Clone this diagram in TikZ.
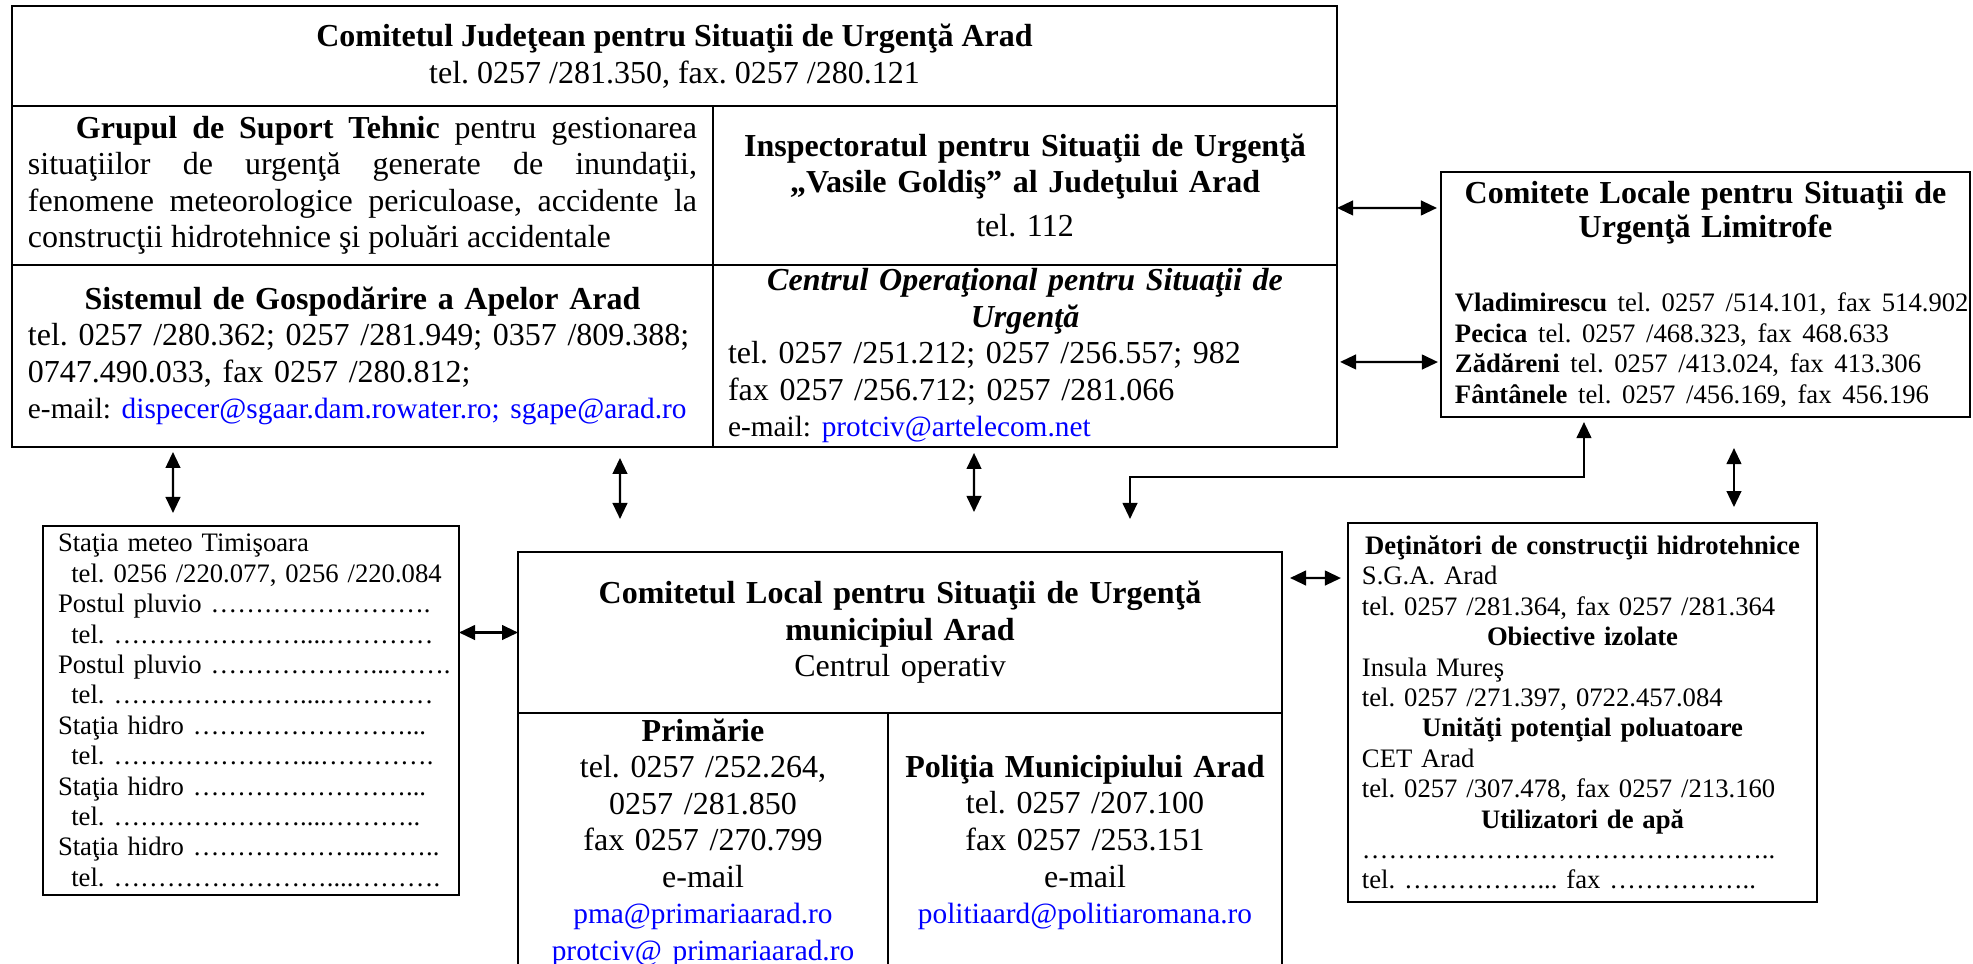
\documentclass[tikz,border=0pt]{standalone}
\usepackage{fontspec}
\setmainfont{Liberation Serif}
\usepackage{tikz}
\usetikzlibrary{positioning,calc,arrows.meta}
\tikzstyle{cell}=[draw,%
                  rectangle,%
                  line width = 1pt,%
                  inner sep  = 0pt,%
                  outer sep  = 0pt,%
                  font=\fontsize{12}{13.7}\selectfont]
\tikzstyle{smallcell}=[cell, font=\fontsize{10}{11.4}\selectfont]
\tikzstyle{link}=[<->, line width=0.8pt]
\newcommand{\adresa}[1]{{\fontsize{11}{13.7}\selectfont\textcolor{blue}{#1}}}
\newcommand{\stg}[1]{\makebox[\linewidth][l]{#1}}
\newcommand{\puncte}[1]{\foreach \k in {1,...,#1}{…}}
\hyphenpenalty=10000
\frenchspacing

\begin{document}
\begin{tikzpicture}[x=0.375pt, y=-0.375pt, >={Triangle[length=6pt,width=5.5pt]}]
  \useasboundingbox (0,0) rectangle (1973,963);
  \clip (0,0) rectangle (1973,963);
            % comitetul judetean
            \node[cell, minimum width=496.9pt, minimum height=37.5pt, align=center] (judet) at (674.5,56)
              {\textbf{Comitetul Judeţean pentru Situaţii de Urgenţă Arad}\\ tel. 0257 /281.350, fax. 0257 /280.121};
            \node[cell, minimum width=262.9pt, minimum height=59.6pt, text width=250.9pt, align=justify,
                  below right=0pt and 0pt of judet.south west] (grupul)
              {\hspace*{18pt}\textbf{Grupul de Suport Tehnic} pentru gestionarea\linebreak
               situaţiilor de urgenţă generate de inundaţii,\linebreak
               fenomene meteorologice periculoase, accidente la\linebreak
               construcţii hidrotehnice şi poluări accidentale};
            \node[cell, minimum width=234pt, minimum height=59.6pt, text width=225pt, align=center,
                  right=0pt of grupul] (isu)
              {\textbf{Inspectoratul pentru Situaţii de Urgenţă}\\
               \textbf{„Vasile Goldiş” al Judeţului Arad}\\[2.7pt] tel. 112};
            \node[cell, minimum width=262.9pt, minimum height=68.25pt, text width=250.9pt, align=center,
                  below=0pt of grupul] (sga)
              {\textbf{Sistemul de Gospodărire a Apelor Arad}\\
               \stg{tel. 0257 /280.362; 0257 /281.949; 0357 /809.388;}\\
               \stg{0747.490.033, fax 0257 /280.812;}\\
               \stg{{\fontsize{11}{13.7}\selectfont e-mail: }\adresa{dispecer@sgaar.dam.rowater.ro; sgape@arad.ro}}};
            \node[cell, minimum width=234pt, minimum height=68.25pt, text width=222.75pt, align=center,
                  right=0pt of sga] (cosu)
              {\textbf{\textit{Centrul Operaţional pentru Situaţii de}}\\ \textbf{\textit{Urgenţă}}\\
               \stg{tel. 0257 /251.212; 0257 /256.557; 982}\\
               \stg{fax 0257 /256.712; 0257 /281.066}\\
               \stg{{\fontsize{11}{13.7}\selectfont e-mail: }\adresa{protciv@artelecom.net}}};
            % comitete limitrofe
            \node[cell, minimum width=198.4pt, minimum height=91.9pt, text width=187.9pt, align=center] (comitete) at (1705.5,294.5)
              {{\fontsize{12}{12.4}\selectfont\bfseries Comitete Locale pentru Situaţii de\\ Urgenţă Limitrofe\par}
               \vspace{16.7pt}
               {\fontsize{10}{11.4}\selectfont
                \stg{\textbf{Vladimirescu} tel. 0257 /514.101, fax 514.902}\\
                \stg{\textbf{Pecica} tel. 0257 /468.323, fax 468.633}\\
                \stg{\textbf{Zădăreni} tel. 0257 /413.024, fax 413.306}\\
                \stg{\textbf{Fântânele} tel. 0257 /456.169, fax 456.196}\par}};
            % statii meteo si hidro
            \node[smallcell, minimum width=156pt, minimum height=138.4pt, text width=144.75pt, align=left] (meteo) at (251,710.5)
              {\stg{Staţia meteo Timişoara}\\
               \stg{\hspace*{5pt}tel. 0256 /220.077, 0256 /220.084}\\
               \stg{Postul pluvio \puncte{8}.}\\
               \stg{\hspace*{5pt}tel. \puncte{7}....\puncte{4}}\\
               \stg{Postul pluvio \puncte{6}...\puncte{2}.}\\
               \stg{\hspace*{5pt}tel. \puncte{7}....\puncte{4}}\\
               \stg{Staţia hidro \puncte{8}...}\\
               \stg{\hspace*{5pt}tel. \puncte{7}...\puncte{4}.}\\
               \stg{Staţia hidro \puncte{8}...}\\
               \stg{\hspace*{5pt}tel. \puncte{7}....\puncte{3}..}\\
               \stg{Staţia hidro \puncte{6}...\puncte{2}..}\\
               \stg{\hspace*{5pt}tel. \puncte{8}....\puncte{3}.}};
            % comitetul local
            \node[cell, minimum width=286.5pt, minimum height=60.4pt, text width=280pt, align=center] (local) at (900,632.5)
              {\textbf{Comitetul Local pentru Situaţii de Urgenţă}\\ \textbf{municipiul Arad}\\ Centrul operativ};
            \node[cell, minimum width=138.75pt, minimum height=97.1pt, text width=130pt, align=center,
                  below right=0pt and 0pt of local.south west] (primarie)
              {\textbf{Primărie}\\ tel. 0257 /252.264,\\ 0257 /281.850\\ fax 0257 /270.799\\ e-mail\\
               \adresa{pma@primariaarad.ro}\\ \adresa{protciv@ primariaarad.ro}};
            \node[cell, minimum width=147.75pt, minimum height=97.1pt, text width=140pt, align=center,
                  right=0pt of primarie] (politia)
              {\textbf{Poliţia Municipiului Arad}\\ tel. 0257 /207.100\\ fax 0257 /253.151\\ e-mail\\
               \adresa{politiaard@politiaromana.ro}};
            % detinatori
            \node[smallcell, minimum width=175.9pt, minimum height=142.1pt, text width=165.4pt, align=center] (detinatori) at (1582.5,712.5)
              {\textbf{Deţinători de construcţii hidrotehnice}\\
               \stg{S.G.A. Arad}\\
               \stg{tel. 0257 /281.364, fax 0257 /281.364}\\
               \textbf{Obiective izolate}\\
               \stg{Insula Mureş}\\
               \stg{tel. 0257 /271.397, 0722.457.084}\\
               \textbf{Unităţi potenţial poluatoare}\\
               \stg{CET Arad}\\
               \stg{tel. 0257 /307.478, fax 0257 /213.160}\\
               \textbf{Utilizatori de apă}\\
               \stg{\puncte{15}..}\\
               \stg{tel. \puncte{5}... fax \puncte{5}..}};
            % legaturi
            \draw [link] ($(sga.south west)+(161,5)$) -- ($(meteo.north west)+(130,-13)$);
            \draw [link] ($(sga.south west)+(608,11)$) -- ($(local.north west)+(102,-33)$);
            \draw [link] ($(cosu.south west)+(261,6)$) -- ($(local.north west)+(456,-40)$);
            \draw [link] ($(local.north west)+(612,-33)$) -- ++(0,-42) -| ($(comitete.south west)+(143,5)$);
            \draw [link] ($(comitete.south west)+(293,31)$) -- ($(detinatori.north west)+(386,-16)$);
            \draw [link] ($(isu.south east)+(0,-57)$) -- ($(comitete.north west)+(-4,36)$);
            \draw [link] ($(cosu.east)+(3,6)$) -- ($(comitete.south west)+(-3,-55)$);
            \draw [link] (meteo.east |- local.west) -- (local.west);
            \draw [link] ($(local.north east)+(8,26)$) -- ($(detinatori.north west)+(-7,55)$);
  \end{tikzpicture}
\end{document}
